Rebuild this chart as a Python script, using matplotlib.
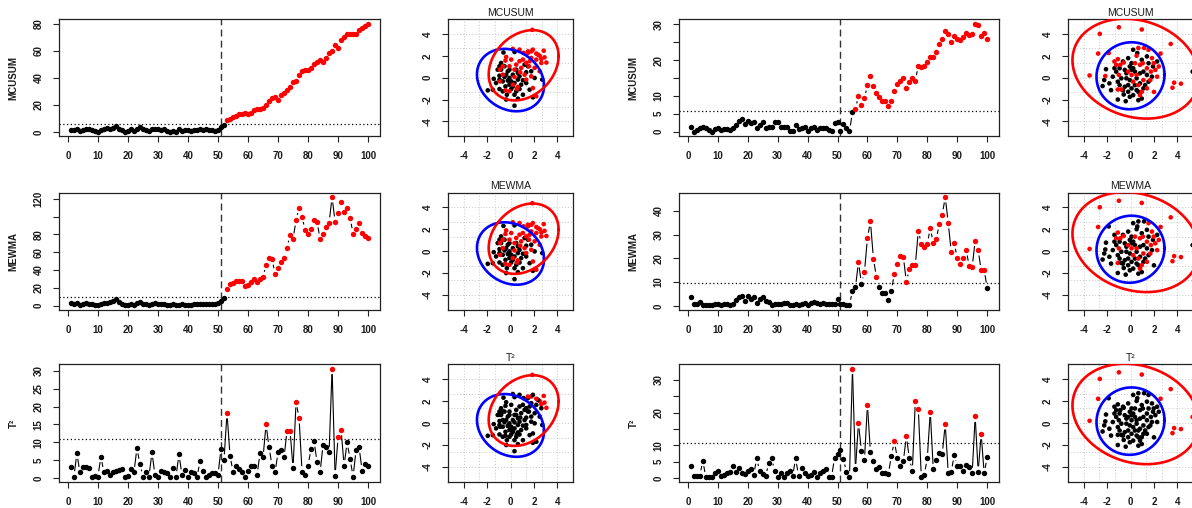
import numpy as np
import matplotlib
matplotlib.use('Agg')
import matplotlib.pyplot as plt
from matplotlib.collections import LineCollection

plt.rcParams['font.family'] = ['Liberation Sans', 'DejaVu Sans']
plt.rcParams['axes.unicode_minus'] = False

# ---------------- data ----------------
t = np.arange(1, 101)
change_point = 51

mcusum_a = [1.5,1.5,2.0,0.5,1.5,2.5,2.0,1.5,1.0,0.3, 1.2,2.5,2.8,2.5,3.0,4.2,2.5,1.5,0.3,0.5,
            2.0,0.5,2.5,3.5,2.5,1.5,1.0,2.5,2.5,2.0, 1.5,2.0,0.8,0.3,1.0,0.3,2.0,0.5,1.5,1.8,
            0.8,1.5,1.5,2.0,1.5,2.0,1.5,1.2,1.0,1.5, 3.5,5.2,
            9.2,10,11,12,13,13.5,14,13,14,16, 17,17,18,20,23,25,26,24,27,29,
            31,33,37,37.5,42,45,45.5,46,47,50, 52,53,52,55,58,60,64.5,62,68,70,
            72,72.5,72.5,72,75,77,78,80]
mcusum_b = [1.4,0,0.5,0.9,1.4,1.0,0.4,0,0.7,1.0, 0.5,0.8,0.7,0.4,1.1,1.9,3.1,3.5,2.1,3.1,
            2.4,2.8,1.1,2.0,2.6,1.1,1.4,1.4,2.6,2.6, 1.4,1.4,1.4,0.1,0.1,1.9,0.7,1.1,1.4,0.1,
            0.9,1.4,0.5,1.0,1.0,1.1,0.5,0.2,2.4,2.8, 0.2,2.1,0.9,0.2,5.4,
            6.4,10,7.5,9.3,13, 15.5,12.7,10.8,9.8,8.6, 8.6,7.2,8.6,11.5,13.2,
            14.2,15,12.3,14,15, 14.3,18.4,18.1,18.4,19.5, 20.8,21,22.2,24.4,26,
            28,27.2,25,26.8,26, 25.5,26.5,27.7,27,27.2, 30.2,29.7,26.8,27.6,25.9]
mewma_a = [3,2,3,1,2,3,2,2,1,0.5, 1.5,3,3.5,4,5,7,4,2,1,1,
           2,1,2.5,4,2,1.5,1,2,2.5,1.5, 2,1.5,1,1,2,1,1,1.5,1,1,
           1,2,2,2,2,2,2,2,2,2.5, 5,8.5,
           18.5,24,25,28,28,28,22,23.5,26,30, 26,30,32,46,54,52,36,42,49,53,
           65,79,75,96,110,100,85,81,86,96, 94,75,81,88,93,122,94,104,116,105,
           110,98,81,86,93,82,78,76]
mewma_b = [3.8,0.7,1.0,1.7,0.3,0.3,0.3,0.3,0.7,0.7, 0.3,0.7,0.7,0.3,1.0,2.4,3.6,4.3,2.1,4.3,
           2.7,3.8,1.4,2.8,3.6,1.9,1.7,0.3,0.7,1.0, 0.7,1.1,1.1,0.4,0.3,0.7,0.3,0.7,1.1,0.4,
           1.1,1.7,1.1,0.7,1.1,1.0,0.7,0.7,0.7,2.8, 1.0,0.7,0.4,0.3,6.4,
           7.8,18.5,9.4,14.2,28.5, 35.6,19.9,12.1,8.1,5.3, 5.3,2.4,6.4,13.5,17.5,
           20.9,20.6,10.2,15.4,17.1, 17.1,31.6,26.1,24.9,26.1, 32.7,26.6,28,34.4,38.4,
           45.8,34.9,22.8,26.3,20.2, 17.8,20.2,23.5,16.7,16.4, 27.5,23.5,14.9,15.2,7.5]
t2_a = [3.0,0.4,6.9,1.6,3.0,3.2,2.7,0.2,0.7,0.4, 6.0,1.6,1.9,0.9,1.6,1.9,2.3,2.5,0.2,0.7,
        2.5,1.6,8.4,3.9,0.4,1.8,0.4,7.2,0.9,0.2, 1.9,1.6,1.3,0.4,2.7,0.4,6.6,0.9,2.3,0.4,
        1.6,1.3,0.2,4.7,1.9,0.4,0.9,1.3,1.3,0.9,
        8.2,5.1,18.2,6.3,1.8,3.3,2.5,1.6,0.4,2.1, 3.5,3.5,0.9,6.9,5.8,15.0,8.6,3.5,1.6,7.2,
        7.9,5.8,13.3,13.3,2.7,21.3,16.8,1.8,0.9,3.5, 8.2,10.3,4.4,1.6,9.3,8.8,7.2,30.6,0.7,11.4,
        13.5,3.5,10.0,5.3,0.4,7.9,8.6,2.1,3.9,3.5]
t2_b = [3.6,0.7,0.7,0.7,5.3,0.2,0.4,0.2,1.4,2.2, 0.7,1.0,1.4,1.9,3.6,1.9,3.0,1.4,1.2,2.2,
        2.6,1.0,6.0,2.0,1.2,0.5,4.6,6.0,2.2,0.4, 1.4,0.4,1.4,2.2,0.5,6.0,0.7,3.0,1.4,0.7,
        1.0,1.7,0.4,1.4,2.2,2.7,0.2,0.2,6.1,7.3,
        8.7,5.8,1.7,0.4,33.4,2.6,16.8,8.2,5.5,22.4, 7.9,5.1,2.8,3.3,1.5,1.5,1.2,6.8,11.2,6.0,
        3.8,5.1,12.8,6.0,2.2,23.4,21.1,0.4,1.0,6.0, 20.3,2.6,5.6,7.6,7.3,16.5,1.4,1.9,7.0,3.6,
        3.6,2.2,4.0,3.3,1.5,18.8,1.9,13.5,1.4,6.3]

ucl_mcusum = [6.0, 5.8]
ucl_mewma = [9.2, 9.7]
ucl_t2 = [10.8, 10.8]

# observations of dataset A (index order 1..100)
obs_a_x = [-0.6,0.34,-1.94,-1.43,-0.94,-0.8,-0.94,-0.66,-0.43,-0.94, -0.31,-0.09,0.06,0.2,0.34,0.63,0.49,0.77,1.06,1.34,
           1.49,1.2,1.63,1.91,2.71,2.06,-0.37,-0.23,-0.51,-1.09, 0.06,0.34,0.63,-0.09,-0.66,0.91,1.77,-1.23,0.2,0.49,
           -0.8,-1.51,1.06,-0.37,0.34,0.77,1.34,-0.94,-0.51,-0.09, 0.63,-0.23,
           2.9,0.77,0.2,-0.43,-0.9,-0.66,-0.09,0.49,0.34,1.06, 0.63,-0.43,1.91,2.63,2.2,1.34,1.2,0.91,-0.89,0.2,
           2.49,1.77,0.54,2.83,3.06,1.49,1.77,2.06,2.63,2.34, 1.91,1.34,0.77,0.06,-0.37,1.86,1.63,1.49,2.2,2.2,
           1.11,1.77,0.83,-0.09,0.34,1.57,2.49,-0.66]
obs_a_y = [2.3,2.35,-1.16,-0.1,1.04,0.73,0.18,-0.34,-0.8,-1.04, -1.56,-0.03,-0.34,-0.8,-2.56,-1.92,-1.25,0.12,-0.24,0.49,
           1.04,1.19,-1.1,-1.8,-0.18,-0.03,0.27,0.58,1.04,0.73, -1.04,-0.49,-0.18,-0.64,-1.25,-0.64,0.58,-0.49,0.27,0.73,
           1.34,-1.1,-1.56,-2.0,-1.56,-1.04,-0.49,-0.18,0.06,0.73, 0.43,-0.27,
           1.85,2.56,2.63,1.56,0.75,1.04,1.04,1.19,0.73,1.65, -0.85,-1.16,-0.95,1.7,-1.7,-0.18,0.27,0.89,-0.34,-0.64,
           2.0,2.4,-1.04,2.46,1.38,2.26,1.8,0.89,1.34,2.1, 2.56,1.34,1.5,1.65,1.89,4.37,1.5,2.4,2.2,1.65,
           2.26,0.12,0.49,-1.25,0.06,1.04,0.58,0.27]
# observations of dataset B (index order 1..100)
obs_b_x = [-2.09,-2.24,-2.38,-1.08,-0.41,0.67,0.96,0.23,0.58,-0.2, -0.64,-1.37,-1.22,-0.93,-0.49,-0.06,0.23,0.09,0.38,0.81,
           1.1,1.54,1.92,1.4,1.83,-0.35,-0.06,-0.2,-0.49,-0.93, -0.64,-0.2,0.09,0.38,0.52,0.81,1.25,1.54,-0.78,-1.08,
           -1.51,-1.8,-1.66,0.23,-0.06,-0.58,0.67,1.1,-0.35,0.09, 0.52,0.96,1.4,2.27,5.3,
           -1.86,3.72,-1.37,-1.08,-0.99,-0.87,-0.99,-1.08,-0.78,-2.15, 0.67,1.16,0.52,2.56,0.38,0.81,1.05,-3.49,1.4,1.74,
           -2.62,3.43,1.98,2.12,2.41,0.96,2.27,1.69,1.1,0.67, 3.58,0.96,0.81,1.4,-0.2,0.09,-0.58,-1.22,0.23,0.52,
           4.3,1.83,-2.76,1.54,2.0]
obs_b_y = [0.77,-0.22,-0.77,-2.0,-2.15,-2.06,-1.91,2.55,2.25,1.78, 1.48,0.86,0.55,0.86,0.71,1.02,0.86,1.32,0.55,0.4,
           0.55,1.32,1.02,0.25,0.09,-0.06,-0.22,-0.68,-0.83,-0.68, -1.14,-1.29,-0.98,-0.68,-1.14,-0.52,-0.68,-0.37,-0.06,-0.37,
           0.09,-0.52,-1.14,-1.6,-1.75,-1.54,-1.29,-0.98,0.4,0.71, -0.06,1.63,1.94,1.48,0.55,
           2.25,-0.46,1.48,1.69,4.6,1.17,0.25,-1.08,-1.08,0.15, 2.71,2.71,2.0,2.2,1.32,1.17,1.32,0.2,0.86,0.55,
           4.0,3.08,1.32,0.71,1.02,4.4,0.09,-0.22,-0.22,-0.68, -0.92,-1.29,-1.6,-0.98,0.55,0.25,1.38,1.17,-0.37,0.25,
           -0.55,1.78,2.2,2.55,-1.3]

# confidence ellipses: centre x, centre y, half-width x, half-height y, correlation
ell_a_in = [0.0, -0.22, 2.86, 2.85, -0.18]
ell_a_out = [1.12, 1.13, 2.98, 3.21, 0.26]
ell_b_in = [0.0, 0.17, 2.9, 3.06, 0.03]
ell_b_out = [0.45, 0.82, 5.4, 4.56, -0.17]

# ---------------- figure ----------------
W, H = 1192, 508
fig = plt.figure(figsize=(W / 100, H / 100), dpi=100)

def px_axes(x0, x1, ytop, ybot):
    return fig.add_axes([x0 / W, (H - ybot) / H, (x1 - x0) / W, (ybot - ytop) / H])

rows = [(19.3, 136.0), (192.7, 309.5), (364.3, 481.7)]
cols = [(59, 380), (448, 573), (679, 999), (1068, 1193)]

TXT = '#1a1a1a'
FW = 'bold'

def style(ax):
    for s in ax.spines.values():
        s.set_linewidth(0.9)
        s.set_color('#222222')
    ax.tick_params(direction='out', length=4, width=0.8, labelsize=7, pad=7,
                   colors='#222222', labelcolor=TXT)
    ax.tick_params(axis='y', labelrotation=90)
    for lb in ax.get_yticklabels() + ax.get_xticklabels():
        lb.set_fontweight(FW)
    for lb in ax.get_yticklabels():
        lb.set_va('center')

def gapped_line(ax, x, y, gap=5.5):
    pts = ax.transData.transform(np.column_stack([x, y]))
    inv = ax.transData.inverted()
    segs = []
    for i in range(len(pts) - 1):
        p0, p1 = pts[i], pts[i + 1]
        d = p1 - p0
        L = np.hypot(d[0], d[1])
        if L <= 2 * gap + 0.5:
            continue
        u = d / L
        segs.append(inv.transform(np.array([p0 + u * gap, p1 - u * gap])))
    ax.add_collection(LineCollection(segs, colors='black', linewidths=0.8, zorder=2))

def ts_panel(ax, vals, ucl, label, yticks, ylabels):
    y = np.asarray(vals, dtype=float)
    sig = y > ucl
    r = y.max() - y.min()
    ax.set_ylim(y.min() - 0.04 * r, y.max() + 0.04 * r)
    ax.set_xlim(1 - 0.04 * 99, 100 + 0.04 * 99)
    gapped_line(ax, t, y)
    ax.plot(t[~sig], y[~sig], 'o', color='black', ms=3.9, mec='none', zorder=3)
    ax.plot(t[sig], y[sig], 'o', color='red', ms=3.9, mec='none', zorder=3)
    ax.axhline(ucl, color='black', ls=(0, (1, 2)), lw=0.9, zorder=1)
    ax.axvline(change_point, color='#333333', ls=(0, (5, 3)), lw=1.0, zorder=1)
    ax.set_xticks(np.arange(0, 101, 10))
    ax.set_yticks(yticks)
    ax.set_yticklabels(ylabels)
    style(ax)
    ax.text(-0.142, 0.5, label, transform=ax.transAxes, rotation=90,
            ha='center', va='center', fontsize=7, color=TXT, fontweight=FW)

def ellipse(ax, p, color):
    cx, cy, hx, hy, rho = p
    a = np.linspace(0, 2 * np.pi, 300)
    ex = cx + hx * np.cos(a)
    ey = cy + hy * (rho * np.cos(a) + np.sqrt(1 - rho ** 2) * np.sin(a))
    ax.plot(ex, ey, color=color, lw=1.9, zorder=4)

def sc_panel(ax, ox, oy, vals, ucl, e_in, e_out, title):
    lim = 5.33
    ax.set_xlim(-lim, lim)
    ax.set_ylim(-lim, lim)
    for g in np.linspace(-lim, lim, 9)[1:-1]:
        ax.axvline(g, color='#c8c8c8', ls=(0, (1, 2)), lw=0.7, zorder=0)
        ax.axhline(g, color='#c8c8c8', ls=(0, (1, 2)), lw=0.7, zorder=0)
    sig = np.asarray(vals) > ucl
    cols_ = ['red' if s else 'black' for s in sig]
    ax.scatter(ox, oy, c=cols_, s=11, linewidths=0, zorder=3)
    ellipse(ax, e_in, 'blue')
    ellipse(ax, e_out, 'red')
    ax.set_xticks([-4, -2, 0, 2, 4])
    ax.set_yticks([-4, -2, 0, 2, 4])
    style(ax)
    ax.set_title(title, fontsize=7.5, pad=2.5, color=TXT)

labels = ['MCUSUM', 'MEWMA', 'T²']

# left dataset
ax = px_axes(*cols[0], *rows[0])
ts_panel(ax, mcusum_a, ucl_mcusum[0], labels[0], [0, 20, 40, 60, 80], ['0', '20', '40', '60', '80'])
ax = px_axes(*cols[0], *rows[1])
ts_panel(ax, mewma_a, ucl_mewma[0], labels[1], [0, 20, 40, 60, 80, 100, 120],
         ['0', '20', '40', '60', '80', '', '120'])
ax = px_axes(*cols[0], *rows[2])
ts_panel(ax, t2_a, ucl_t2[0], labels[2], [0, 5, 10, 15, 20, 25, 30],
         ['0', '5', '10', '15', '20', '25', '30'])

ax = px_axes(*cols[1], *rows[0])
sc_panel(ax, obs_a_x, obs_a_y, mcusum_a, ucl_mcusum[0], ell_a_in, ell_a_out, labels[0])
ax = px_axes(*cols[1], *rows[1])
sc_panel(ax, obs_a_x, obs_a_y, mewma_a, ucl_mewma[0], ell_a_in, ell_a_out, labels[1])
ax = px_axes(*cols[1], *rows[2])
sc_panel(ax, obs_a_x, obs_a_y, t2_a, ucl_t2[0], ell_a_in, ell_a_out, labels[2])

# right dataset
ax = px_axes(*cols[2], *rows[0])
ts_panel(ax, mcusum_b, ucl_mcusum[1], labels[0], [0, 5, 10, 15, 20, 25, 30],
         ['0', '5', '10', '', '20', '', '30'])
ax = px_axes(*cols[2], *rows[1])
ts_panel(ax, mewma_b, ucl_mewma[1], labels[1], [0, 10, 20, 30, 40], ['0', '10', '20', '30', '40'])
ax = px_axes(*cols[2], *rows[2])
ts_panel(ax, t2_b, ucl_t2[1], labels[2], [0, 5, 10, 15, 20, 25, 30],
         ['0', '5', '10', '', '20', '', '30'])

ax = px_axes(*cols[3], *rows[0])
sc_panel(ax, obs_b_x, obs_b_y, mcusum_b, ucl_mcusum[1], ell_b_in, ell_b_out, labels[0])
ax = px_axes(*cols[3], *rows[1])
sc_panel(ax, obs_b_x, obs_b_y, mewma_b, ucl_mewma[1], ell_b_in, ell_b_out, labels[1])
ax = px_axes(*cols[3], *rows[2])
sc_panel(ax, obs_b_x, obs_b_y, t2_b, ucl_t2[1], ell_b_in, ell_b_out, labels[2])

fig.savefig('out.png', dpi=100)
